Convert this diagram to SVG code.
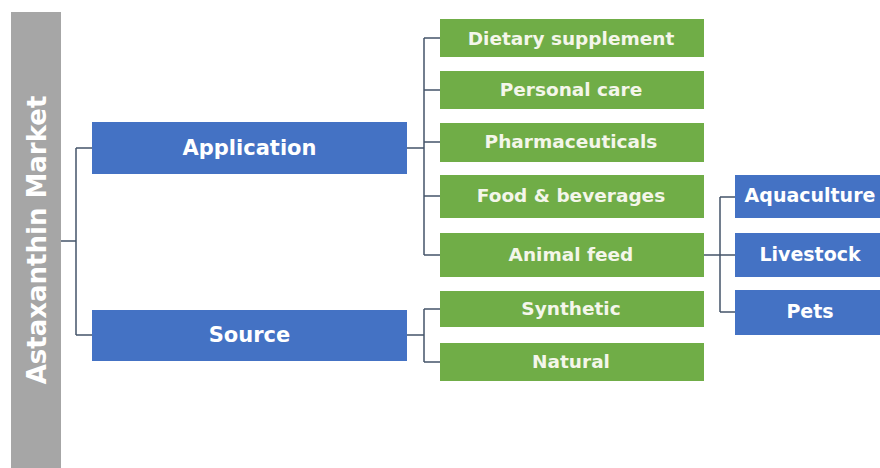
<svg xmlns="http://www.w3.org/2000/svg" width="880" height="468" viewBox="0 0 880 468">
<style>
.blue{fill:#4472c4}
.green{fill:#70ad47}
.t{font-family:"DejaVu Sans",Verdana,sans-serif;font-weight:bold;fill:#ffffff;text-anchor:middle;dominant-baseline:central}
.g{font-size:18.5px;fill:#f4f6ea}
.b{font-size:21px}
.r{font-size:19px}
.c{fill:none;stroke:#44546a;stroke-width:1.5}
</style>
<rect width="880" height="468" fill="#ffffff"/>
<g id="root">
<rect x="11" y="12" width="50" height="456" fill="#a6a6a6"/>
<text class="t" font-size="26" transform="translate(37 240) rotate(-90)">Astaxanthin Market</text>
</g>
<g id="connectors">
<path class="c" d="M61 241H76M76 148V335M76 148H92M76 335H92"/>
<path class="c" d="M407 148H424M424 38V255M424 38H440M424 90H440M424 142H440M424 196H440M424 255H440"/>
<path class="c" d="M407 335H424M424 309V362M424 309H440M424 362H440"/>
<path class="c" d="M704 255H720M720 197V312M720 197H735M720 255H735M720 312H735"/>
</g>
<g id="application"><rect class="blue" x="92" y="122" width="315" height="52"/><text class="t b" x="249.5" y="148">Application</text></g>
<g id="source"><rect class="blue" x="92" y="310" width="315" height="51"/><text class="t b" x="249.5" y="335">Source</text></g>
<g id="dietary"><rect class="green" x="440" y="19" width="264" height="38"/><text class="t g" x="571" y="38">Dietary supplement</text></g>
<g id="personal"><rect class="green" x="440" y="71" width="264" height="38"/><text class="t g" x="571" y="89">Personal care</text></g>
<g id="pharma"><rect class="green" x="440" y="123" width="264" height="39"/><text class="t g" x="571" y="141">Pharmaceuticals</text></g>
<g id="food"><rect class="green" x="440" y="175" width="264" height="43"/><text class="t g" x="571" y="195">Food &amp; beverages</text></g>
<g id="animal"><rect class="green" x="440" y="233" width="264" height="44"/><text class="t g" x="571" y="254">Animal feed</text></g>
<g id="synthetic"><rect class="green" x="440" y="291" width="264" height="36"/><text class="t g" x="571" y="308">Synthetic</text></g>
<g id="natural"><rect class="green" x="440" y="343" width="264" height="38"/><text class="t g" x="571" y="361">Natural</text></g>
<g id="aquaculture"><rect class="blue" x="735" y="175" width="145" height="43"/><text class="t r" x="810" y="195">Aquaculture</text></g>
<g id="livestock"><rect class="blue" x="735" y="233" width="145" height="44"/><text class="t r" x="810" y="254">Livestock</text></g>
<g id="pets"><rect class="blue" x="735" y="290" width="145" height="45"/><text class="t r" x="810" y="311">Pets</text></g>
</svg>
